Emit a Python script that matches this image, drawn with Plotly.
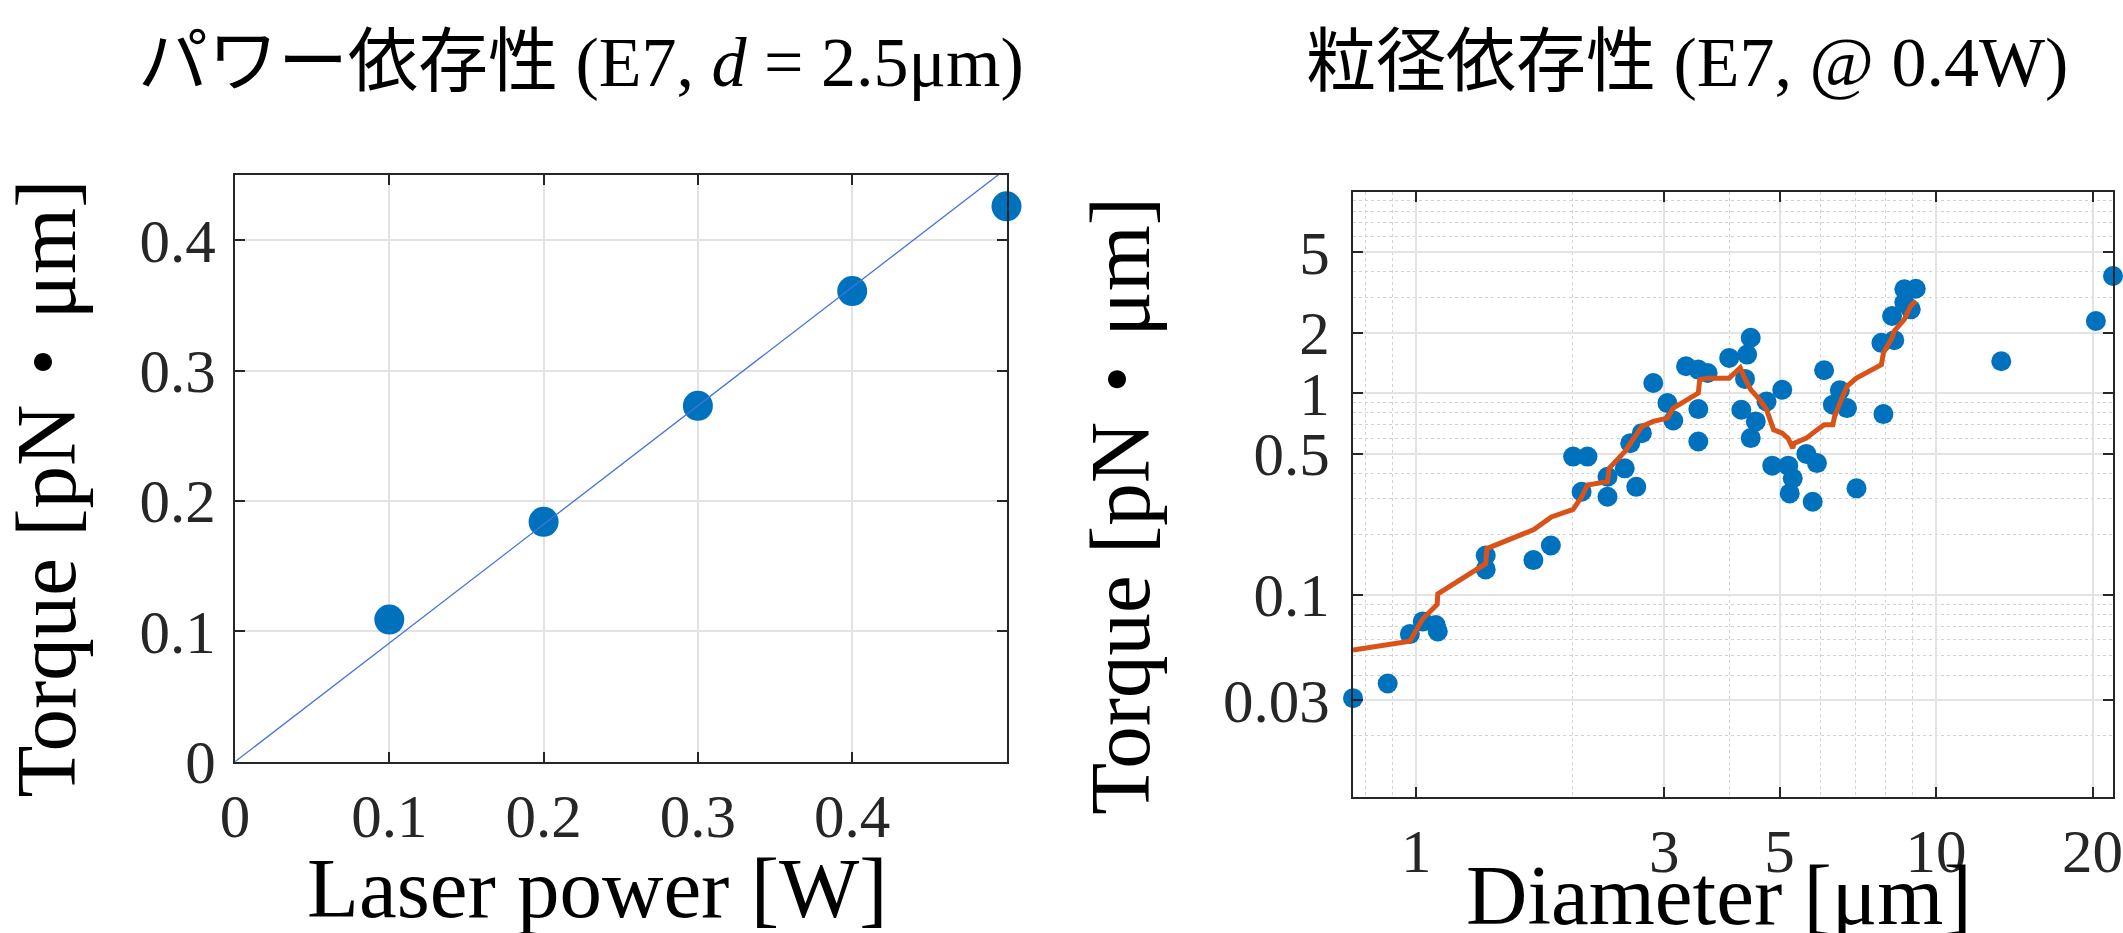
import math
import plotly.graph_objects as go

# ---------------- data ----------------
laser_power = [0.1, 0.2, 0.3, 0.4, 0.5]
torque_power = [0.109, 0.184, 0.273, 0.361, 0.426]
fit_power = [0.0, 0.5]
fit_torque = [0.0, 0.455]

diameter = [0.7555, 0.881, 0.972, 1.029, 1.09, 1.10, 1.36, 1.36, 1.68, 1.815,
            2.003, 2.135, 2.08, 2.333, 2.333, 2.518, 2.65, 2.58, 2.716, 2.857,
            3.042, 3.122, 3.304, 3.488, 3.635, 3.488, 3.488, 4.0, 4.33, 4.40,
            4.29, 4.22, 4.5, 4.40, 4.72, 5.06, 4.84, 5.195, 5.30, 5.23,
            5.79, 5.90, 5.63, 6.09, 6.33, 6.53, 6.74, 7.03, 7.92, 7.85,
            8.31, 8.23, 8.69, 9.14, 8.69, 8.94, 13.35, 20.3, 21.9]
torque_diam = [0.0308, 0.0364, 0.064, 0.074, 0.071, 0.066, 0.157, 0.134, 0.149, 0.176,
               0.486, 0.486, 0.325, 0.386, 0.307, 0.425, 0.344, 0.566, 0.635, 1.126,
               0.895, 0.734, 1.363, 1.312, 1.262, 0.836, 0.577, 1.499, 1.557, 1.886,
               1.179, 0.829, 0.726, 0.600, 0.912, 1.042, 0.438, 0.438, 0.379, 0.319,
               0.29, 0.451, 0.501, 1.302, 0.878, 1.035, 0.845, 0.338, 0.789, 1.781,
               1.836, 2.418, 3.28, 3.30, 2.82, 2.61, 1.443, 2.284, 3.82]

trend_diameter = [0.7555, 0.972, 1.029, 1.097, 1.10, 1.36, 1.367, 1.683, 1.82, 2.003,
                  2.08, 2.135, 2.333, 2.35, 2.518, 2.58, 2.716, 2.857, 3.042, 3.122,
                  3.304, 3.488, 3.51, 3.635, 4.0, 4.1, 4.2, 4.29, 4.40, 4.58,
                  4.72, 4.87, 5.06, 5.195, 5.30, 5.33, 5.63, 5.90, 6.09, 6.33,
                  6.38, 6.53, 6.74, 7.03, 7.85, 7.92, 8.23, 8.31, 8.69, 8.81,
                  8.94, 9.14]
trend_torque = [0.0534, 0.059, 0.0762, 0.0898, 0.1014, 0.143, 0.170, 0.211, 0.244, 0.2657,
                0.307, 0.351, 0.365, 0.425, 0.514, 0.566, 0.685, 0.726, 0.754, 0.846,
                0.93, 1.004, 1.17, 1.19, 1.19, 1.272, 1.34, 1.18, 1.043, 0.93,
                0.83, 0.659, 0.635, 0.597, 0.535, 0.565, 0.600, 0.659, 0.698, 0.698,
                0.768, 0.895, 1.084, 1.19, 1.389, 1.588, 1.886, 2.036, 2.327, 2.51,
                2.713, 2.88]

left_xticks = [0, 0.1, 0.2, 0.3, 0.4]
left_xticktext = ["0", "0.1", "0.2", "0.3", "0.4"]
left_yticks = [0, 0.1, 0.2, 0.3, 0.4]
left_yticktext = ["0", "0.1", "0.2", "0.3", "0.4"]
right_xticks = [1, 3, 5, 10, 20]
right_xticktext = ["1", "3", "5", "10", "20"]
right_yticks = [0.03, 0.1, 0.5, 1, 2, 5]
right_yticktext = ["0.03", "0.1", "0.5", "1", "2", "5"]

title_left = "パワー依存性 (E7, <i>d</i> = 2.5μm)"
title_right = "粒径依存性 (E7, @ 0.4W)"
xlabel_left = "Laser power [W]"
xlabel_right = "Diameter [μm]"
ylabel = "Torque [pN・μm]"

# ---------------- style ----------------
W, H = 2123, 933
BLUE = "#0072BD"
ORANGE = "#D95319"
AXC = "#262626"
GRID = "#E3E3E3"
MINOR = "#D2D2D2"
SERIF = "Liberation Serif, Times New Roman, Noto Sans CJK JP"
TICKFONT = dict(family=SERIF, size=61, color=AXC)


def px(x):
    return x / W


def py(y):
    return 1 - y / H


minor_x = [m * 10 ** e for e in range(-1, 2) for m in range(2, 10)]
minor_y = [m * 10 ** e for e in range(-2, 1) for m in range(2, 10)]

fig = go.Figure()

# left panel
fig.add_trace(go.Scatter(x=laser_power, y=torque_power, mode="markers",
                         marker=dict(size=30, color=BLUE), cliponaxis=False,
                         xaxis="x", yaxis="y"))
fig.add_trace(go.Scatter(x=fit_power, y=fit_torque, mode="lines",
                         line=dict(color="#4472DD", width=1.3),
                         xaxis="x", yaxis="y"))

# right panel
fig.add_trace(go.Scatter(x=diameter, y=torque_diam, mode="markers",
                         marker=dict(size=20, color=BLUE), cliponaxis=False,
                         xaxis="x2", yaxis="y2"))
fig.add_trace(go.Scatter(x=trend_diameter, y=trend_torque, mode="lines",
                         line=dict(color=ORANGE, width=5),
                         xaxis="x2", yaxis="y2"))

common = dict(showline=True, linecolor=AXC, linewidth=2, mirror="ticks",
              ticks="inside", ticklen=10, tickwidth=2, tickcolor=AXC,
              tickfont=TICKFONT, showgrid=True, gridcolor=GRID, gridwidth=1.5,
              zeroline=False, ticklabeloverflow="allow")

fig.update_layout(
    width=W, height=H,
    margin=dict(l=0, r=0, t=0, b=0, autoexpand=False),
    paper_bgcolor="white", plot_bgcolor="white",
    showlegend=False,
    xaxis=dict(domain=[px(235), px(1006.5)], range=[0, 0.5], anchor="y",
               tickmode="array", tickvals=left_xticks, ticktext=left_xticktext,
               ticklabelstandoff=0, **common),
    yaxis=dict(domain=[py(761.7), py(175)], range=[0, 0.45], anchor="x",
               tickmode="array", tickvals=left_yticks, ticktext=left_yticktext,
               ticklabelstandoff=5, **common),
    xaxis2=dict(domain=[px(1353), px(2113.3)], type="log",
                range=[math.log10(0.7555), math.log10(21.93)], anchor="y2",
                tickmode="array", tickvals=right_xticks, ticktext=right_xticktext,
                ticklabelstandoff=0,
                minor=dict(tickmode="array", tickvals=minor_x, ticks="",
                           showgrid=True, gridcolor=MINOR, griddash="dot", gridwidth=1),
                **common),
    yaxis2=dict(domain=[py(796.7), py(191.7)], type="log", range=[-2, 1], anchor="x2",
                tickmode="array", tickvals=right_yticks, ticktext=right_yticktext,
                ticklabelstandoff=9,
                minor=dict(tickmode="array", tickvals=minor_y, ticks="",
                           showgrid=True, gridcolor=MINOR, griddash="dot", gridwidth=1),
                **common),
)

ann = []
ann.append(dict(text=title_left, x=px(580.7), y=py(63), font=dict(family=SERIF, size=70, color="black")))
ann.append(dict(text=title_right, x=px(1687), y=py(63), font=dict(family=SERIF, size=70, color="black")))
ann.append(dict(text=xlabel_left, x=px(597.5), y=py(888), font=dict(family=SERIF, size=85, color="black")))
ann.append(dict(text=xlabel_right, x=px(1719), y=py(894.6), font=dict(family=SERIF, size=85, color="black")))
ann.append(dict(text=ylabel, x=px(46), y=py(488.5), textangle=-90, font=dict(family=SERIF, size=85, color="black")))
ann.append(dict(text=ylabel, x=px(1120), y=py(505.8), textangle=-90, font=dict(family=SERIF, size=85, color="black")))
for a in ann:
    a.update(xref="paper", yref="paper", showarrow=False, xanchor="center", yanchor="middle")
fig.update_layout(annotations=ann)

fig.write_html("out.html")
